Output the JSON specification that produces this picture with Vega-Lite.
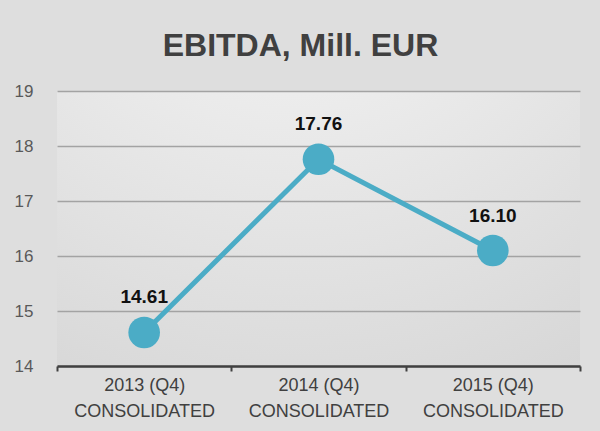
{
  "$schema": "https://vega.github.io/schema/vega-lite/v6.json",
  "width": 523,
  "height": 275,
  "autosize": "none",
  "padding": {"left": 57, "top": 91, "right": 20, "bottom": 65},
  "background": "#dedede",
  "title": {
    "text": "EBITDA, Mill. EUR",
    "font": "Liberation Sans",
    "fontSize": 32,
    "fontWeight": "bold",
    "color": "#404040",
    "anchor": "middle",
    "frame": "group",
    "baseline": "alphabetic",
    "dx": -18,
    "offset": -6
  },
  "config": {
    "view": {
      "stroke": null,
      "fill": {
        "gradient": "radial",
        "x1": 0.45, "y1": -0.2, "r1": 0,
        "x2": 0.45, "y2": -0.2, "r2": 1.2,
        "stops": [
          {"offset": 0, "color": "#fafafa"},
          {"offset": 1, "color": "#d4d4d4"}
        ]
      }
    },
    "font": "Liberation Sans"
  },
  "data": {
    "values": [
      {"period": "2013 (Q4) CONSOLIDATED", "ebitda": 14.61},
      {"period": "2014 (Q4) CONSOLIDATED", "ebitda": 17.76},
      {"period": "2015 (Q4) CONSOLIDATED", "ebitda": 16.10}
    ]
  },
  "encoding": {
    "x": {
      "field": "period",
      "type": "nominal",
      "sort": null,
      "scale": {"type": "band", "paddingInner": 0, "paddingOuter": 0},
      "axis": {
        "title": null,
        "labelAngle": 0,
        "labelExpr": "[slice(datum.label, 0, 9), slice(datum.label, 10)]",
        "labelFont": "Liberation Sans",
        "labelFontSize": 18,
        "labelColor": "#404040",
        "labelLineHeight": 26,
        "labelPadding": 5,
        "tickBand": "extent",
        "ticks": true,
        "tickSize": 5,
        "tickWidth": 2,
        "tickColor": "#404040",
        "domainColor": "#404040",
        "domainWidth": 2.5,
        "grid": false
      }
    },
    "y": {
      "field": "ebitda",
      "type": "quantitative",
      "scale": {"domain": [14, 19], "nice": false, "zero": false},
      "axis": {
        "title": null,
        "values": [14, 15, 16, 17, 18, 19],
        "domain": false,
        "ticks": false,
        "labelFont": "Liberation Sans",
        "labelFontSize": 17,
        "labelColor": "#595959",
        "labelPadding": 24,
        "grid": true,
        "gridColor": "#a3a3a3",
        "gridWidth": 1.5
      }
    }
  },
  "layer": [
    {"mark": {"type": "line", "color": "#4bacc6", "strokeWidth": 5}},
    {"mark": {"type": "point", "filled": true, "color": "#4bacc6", "opacity": 1, "size": 1000}},
    {
      "mark": {"type": "text", "dy": -35, "fontSize": 19, "fontWeight": "bold", "color": "#111111", "font": "Liberation Sans"},
      "encoding": {"text": {"field": "ebitda", "type": "quantitative", "format": ".2f"}}
    }
  ]
}
